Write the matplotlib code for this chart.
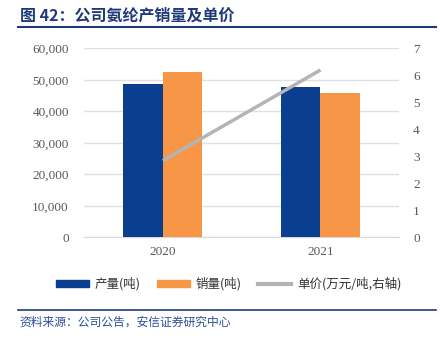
import matplotlib.pyplot as plt
import numpy as np
from matplotlib.lines import Line2D
from matplotlib.patches import Patch

plt.rcParams['font.family'] = ['Noto Sans CJK SC', 'DejaVu Sans']

# data
years = ['2020', '2021']
output_t = [48700, 47600]      # 产量(吨)
sales_t = [52500, 45700]       # 销量(吨)
price = [2.84, 6.2]            # 单价(万元/吨)

left_ticks = [0, 10000, 20000, 30000, 40000, 50000, 60000]
right_ticks = [0, 1, 2, 3, 4, 5, 6, 7]

blue = '#0A3F8F'
orange = '#F79646'
grey = '#B4B4B4'
tick_col = '#595959'
serif = 'Liberation Serif'

fig = plt.figure(figsize=(4.4, 3.42), dpi=100)
ax = fig.add_axes([0.191, 0.306, 0.7165, 0.5525])
ax2 = ax.twinx()

x = np.arange(len(years))
w = 0.25
ax.bar(x - w / 2, output_t, w, color=blue, zorder=3)
ax.bar(x + w / 2, sales_t, w, color=orange, zorder=3)
ax2.plot(x, price, color=grey, lw=2.5, solid_capstyle='butt')

ax.set_xlim(-0.5, 1.5)
ax.set_ylim(0, 60000)
ax2.set_ylim(0, 7)
ax.set_yticks(left_ticks)
ax.set_yticklabels([f'{v:,}' for v in left_ticks])
ax2.set_yticks(right_ticks)
ax.set_xticks(x)
ax.set_xticklabels(years)
ax.grid(axis='y', color='#E0E0E0', lw=1, zorder=0)

for a in (ax, ax2):
    for s in a.spines.values():
        s.set_visible(False)
    a.tick_params(length=0, colors=tick_col, labelsize=9.5)
    for lab in a.get_xticklabels() + a.get_yticklabels():
        lab.set_fontfamily(serif)
ax.tick_params(axis='y', pad=11)
ax.tick_params(axis='x', pad=6)
ax2.tick_params(axis='y', pad=10)
ax.spines['bottom'].set_visible(True)
ax.spines['bottom'].set_color('#D9D9D9')

# title
fig.text(0.045, 0.955, '图 42：公司氨纶产销量及单价', color='#1F3A7A',
         fontsize=11.5, fontweight='bold', va='center', ha='left')
fig.add_artist(Line2D([0.041, 0.99], [0.921, 0.921], color='#1F3A7A', lw=1.5))

# legend
handles = [Patch(color=blue), Patch(color=orange), Line2D([], [], color=grey, lw=3)]
labels = ['产量(吨)', '销量(吨)', '单价(万元/吨,右轴)']
fig.legend(handles, labels, loc='center', bbox_to_anchor=(0.52, 0.17), ncol=3,
           frameon=False, fontsize=9, handlelength=2.6, handleheight=0.5,
           columnspacing=1.3, handletextpad=0.5, labelcolor='#333333')

# source
fig.add_artist(Line2D([0.041, 0.99], [0.094, 0.094], color='#1F3A7A', lw=1.2))
fig.text(0.045, 0.058, '资料来源：公司公告，安信证券研究中心', color='#2E4E9A',
         fontsize=8.5, style='italic', va='center', ha='left')

fig.savefig('out.png', dpi=100)
